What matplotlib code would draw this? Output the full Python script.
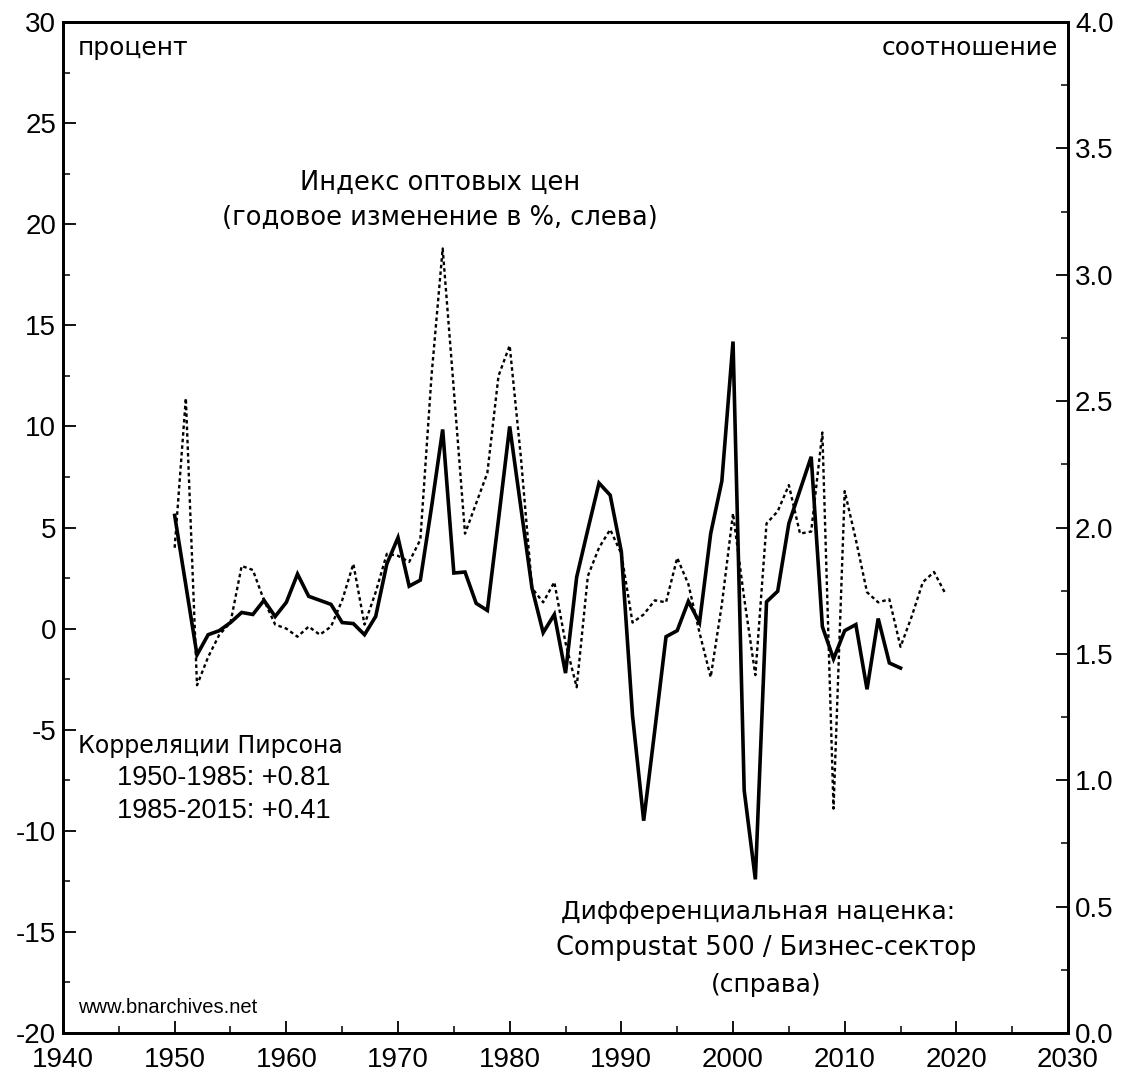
"""Wholesale price index vs. differential markup (bnarchives chart)."""

import matplotlib

matplotlib.use("Agg")
import matplotlib.pyplot as plt
from matplotlib.ticker import MultipleLocator

plt.rcParams["axes.unicode_minus"] = False

# Index of wholesale prices, annual % change (left axis)
wpi_years = list(range(1950, 2020))
wpi_change = [
    4.0, 11.4, -2.8, -1.4, -0.3, 0.3, 3.1, 2.9, 1.4, 0.2,
    0.0, -0.4, 0.1, -0.3, 0.1, 1.4, 3.2, 0.2, 1.8, 3.7,
    3.6, 3.3, 4.4, 12.5, 18.8, 11.8, 4.7, 6.2, 7.7, 12.5,
    14.0, 8.5, 2.0, 1.3, 2.3, -0.7, -2.9, 2.6, 4.0, 4.9,
    3.7, 0.3, 0.7, 1.4, 1.3, 3.5, 2.2, -0.2, -2.4, 1.2,
    5.7, 1.5, -2.3, 5.2, 5.8, 7.1, 4.7, 4.8, 9.7, -8.9,
    6.8, 4.4, 1.8, 1.3, 1.45, -0.9, 0.6, 2.3, 2.8, 1.75,
]

# Differential markup, Compustat 500 / business sector (right axis, ratio)
markup_years = list(range(1950, 2016))
markup_ratio = [
    2.048, 1.772, 1.496, 1.576, 1.592, 1.624, 1.664, 1.656, 1.712, 1.648,
    1.704, 1.816, 1.728, 1.712, 1.696, 1.624, 1.620, 1.576, 1.648, 1.856,
    1.960, 1.768, 1.792, 2.080, 2.388, 1.820, 1.824, 1.700, 1.672, 2.032,
    2.400, 2.080, 1.760, 1.584, 1.656, 1.424, 1.804, 1.992, 2.176, 2.128,
    1.904, 1.256, 0.840, 1.200, 1.568, 1.592, 1.708, 1.624, 1.976, 2.184,
    2.736, 0.960, 0.608, 1.706, 1.748, 2.016, 2.148, 2.280, 1.608, 1.480,
    1.592, 1.616, 1.360, 1.640, 1.464, 1.444,
]

TICK_FONT = ["Liberation Sans", "DejaVu Sans"]
TEXT_FONT = ["DejaVu Sans"]
PLAIN_FONT = ["Liberation Sans", "DejaVu Sans"]

fig = plt.figure(figsize=(11.35, 10.81), dpi=100)
ax = fig.add_axes([0.0555, 0.0444, 0.8855, 0.9352])
ax2 = ax.twinx()

ax.plot(wpi_years, wpi_change, color="black", lw=1.7, ls=(0, (1.5, 1.3)))
ax2.plot(markup_years, markup_ratio, color="black", lw=2.6, solid_joinstyle="miter")

ax.set_xlim(1940, 2030)
ax.set_ylim(-20, 30)
ax2.set_ylim(0, 4)

ax.xaxis.set_major_locator(MultipleLocator(10))
ax.xaxis.set_minor_locator(MultipleLocator(5))
ax.yaxis.set_major_locator(MultipleLocator(5))
ax.yaxis.set_minor_locator(MultipleLocator(2.5))
ax.yaxis.set_major_formatter(lambda v, pos: f"{v:.0f}")
ax2.yaxis.set_major_locator(MultipleLocator(0.5))
ax2.yaxis.set_minor_locator(MultipleLocator(0.25))
ax2.yaxis.set_major_formatter(lambda v, pos: f"{v:.1f}")

for a in (ax, ax2):
    for sp in a.spines.values():
        sp.set_linewidth(2.0)
    a.tick_params(which="major", direction="in", length=9, width=1.3, labelsize=20, pad=5)
    a.tick_params(which="minor", direction="in", length=5, width=1.1)
ax.tick_params(axis="y", right=False, which="both")
ax.tick_params(axis="x", top=False, which="both")
ax.tick_params(axis="x", pad=10)

for lab in ax.get_xticklabels() + ax.get_yticklabels() + ax2.get_yticklabels():
    lab.set_family(TICK_FONT)

tr = ax.transAxes
ax.text(0.015, 0.974, "процент", transform=tr, fontsize=18, family=TEXT_FONT,
        ha="left", va="center")
ax.text(0.990, 0.974, "соотношение", transform=tr, fontsize=18, family=TEXT_FONT,
        ha="right", va="center")

ax.text(0.375, 0.841, "Индекс оптовых цен", transform=tr, fontsize=18.5,
        family=TEXT_FONT, ha="center", va="center")
ax.text(0.375, 0.806, "(годовое изменение в %, слева)", transform=tr, fontsize=18.5,
        family=TEXT_FONT, ha="center", va="center")

ax.text(0.015, 0.284, "Корреляции Пирсона", transform=tr, fontsize=17,
        family=TEXT_FONT, ha="left", va="center")
ax.text(0.160, 0.252, "1950-1985: +0.81", transform=tr, fontsize=19.5,
        family=PLAIN_FONT, ha="center", va="center")
ax.text(0.160, 0.220, "1985-2015: +0.41", transform=tr, fontsize=19.5,
        family=PLAIN_FONT, ha="center", va="center")

ax.text(0.692, 0.120, "Дифференциальная наценка:", transform=tr, fontsize=18,
        family=TEXT_FONT, ha="center", va="center")
ax.text(0.700, 0.084, "Compustat 500 / Бизнес-сектор", transform=tr, fontsize=18.5,
        family=TEXT_FONT, ha="center", va="center")
ax.text(0.700, 0.047, "(справа)", transform=tr, fontsize=18,
        family=TEXT_FONT, ha="center", va="center")

ax.text(0.015, 0.025, "www.bnarchives.net", transform=tr, fontsize=14.5,
        family=PLAIN_FONT, ha="left", va="center")

fig.savefig("out.png", dpi=100)
